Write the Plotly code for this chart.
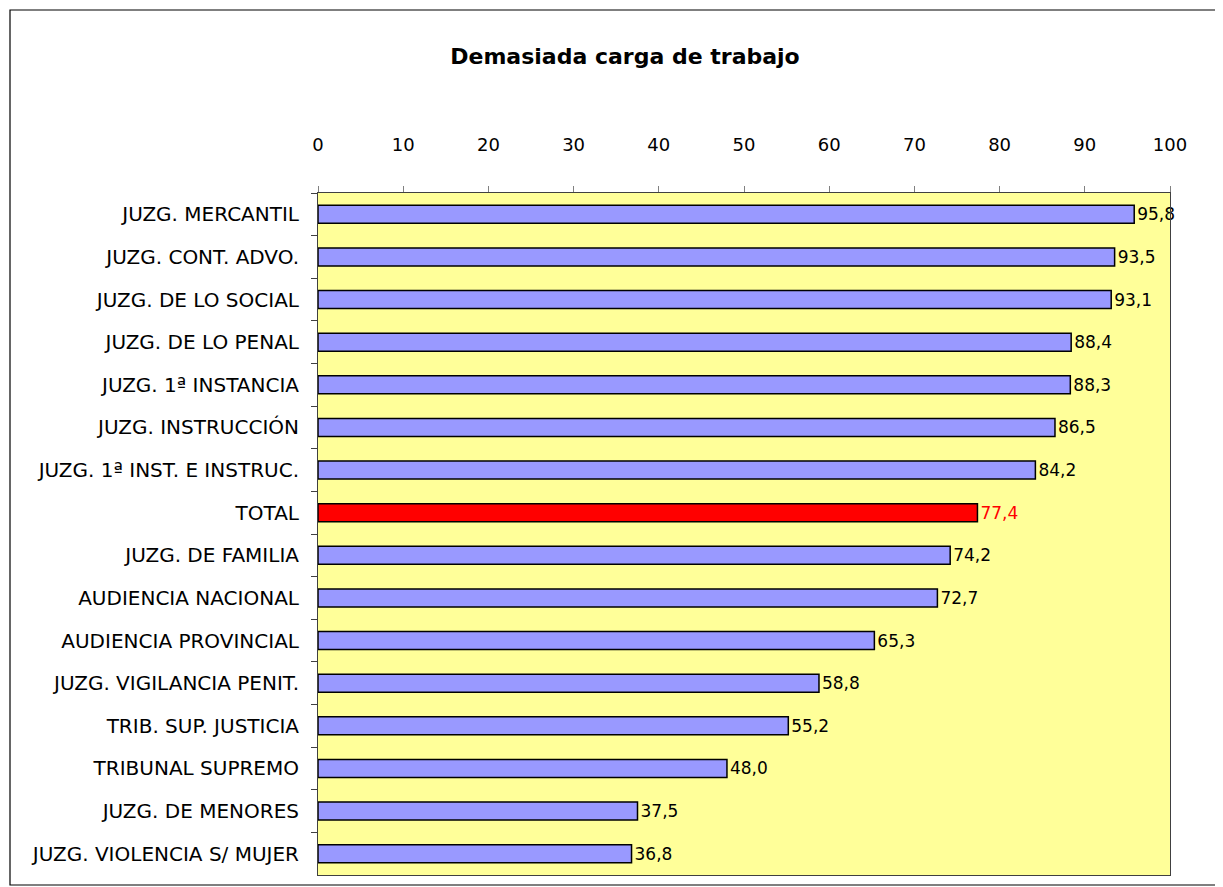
import plotly.graph_objects as go

categories = ["JUZG. MERCANTIL", "JUZG. CONT. ADVO.", "JUZG. DE LO SOCIAL", "JUZG. DE LO PENAL",
              "JUZG. 1ª INSTANCIA", "JUZG. INSTRUCCIÓN", "JUZG. 1ª INST. E INSTRUC.", "TOTAL",
              "JUZG. DE FAMILIA", "AUDIENCIA NACIONAL", "AUDIENCIA PROVINCIAL",
              "JUZG. VIGILANCIA PENIT.", "TRIB. SUP. JUSTICIA", "TRIBUNAL SUPREMO",
              "JUZG. DE MENORES", "JUZG. VIOLENCIA S/ MUJER"]
values = [95.8, 93.5, 93.1, 88.4, 88.3, 86.5, 84.2, 77.4, 74.2, 72.7, 65.3, 58.8, 55.2, 48.0, 37.5, 36.8]
x_ticks = [0, 10, 20, 30, 40, 50, 60, 70, 80, 90, 100]

# page offset of the plotly div (body margin)
OFF = 8
W, H = 1223 - OFF, 887 - OFF
L, R, T, B = 318 - OFF, W - (1170 - OFF), 193 - OFF, H - (875 - OFF)

colors = ["#FF0000" if c == "TOTAL" else "#9999FF" for c in categories]
text_colors = ["#FF0000" if c == "TOTAL" else "#000000" for c in categories]
texts = [f"{v:.1f}".replace(".", ",") for v in values]

fig = go.Figure(go.Bar(
    x=values, y=categories, orientation="h",
    marker=dict(color=colors, line=dict(color="#000000", width=1.5)),
    width=0.42,
    text=texts, textposition="outside", cliponaxis=False, constraintext="none",
    textfont=dict(family="DejaVu Sans", size=17, color=text_colors),
))

pw, ph = W - L - R, H - T - B
bx0, bx1, by0, by1 = 10 - OFF, 1221 - OFF, 10 - OFF, 885 - OFF
fig.add_shape(type="rect", xref="paper", yref="paper",
              x0=(bx0 - L) / pw, x1=(bx1 - L) / pw,
              y0=1 - (by0 - T) / ph, y1=1 - (by1 - T) / ph,
              line=dict(color="#000000", width=1.2), layer="below")

fig.update_layout(
    width=W, height=H,
    margin=dict(l=L, r=R, t=T, b=B),
    paper_bgcolor="#FFFFFF", plot_bgcolor="#FFFF99",
    showlegend=False,
    title=dict(text="<b>Demasiada carga de trabajo</b>", x=(625 - OFF) / W, xanchor="center",
               y=1 - (56 - OFF) / H, yanchor="middle",
               font=dict(family="DejaVu Sans", size=22, color="#000000")),
    font=dict(family="DejaVu Sans", size=18, color="#000000"),
    xaxis=dict(range=[0, 100], side="top", tickvals=x_ticks, ticks="outside", ticklen=6,
               tickcolor="#808080", showgrid=False, zeroline=False,
               showline=True, linecolor="#404040", mirror=True,
               ticklabelstandoff=28, tickfont=dict(size=18)),
    yaxis=dict(autorange="reversed", type="category", tickson="boundaries",
               ticks="outside", ticklen=6, tickcolor="#404040",
               showgrid=False, showline=True, linecolor="#404040", mirror=True,
               ticklabelstandoff=14, tickfont=dict(size=20)),
)

fig.write_html("out.html")
